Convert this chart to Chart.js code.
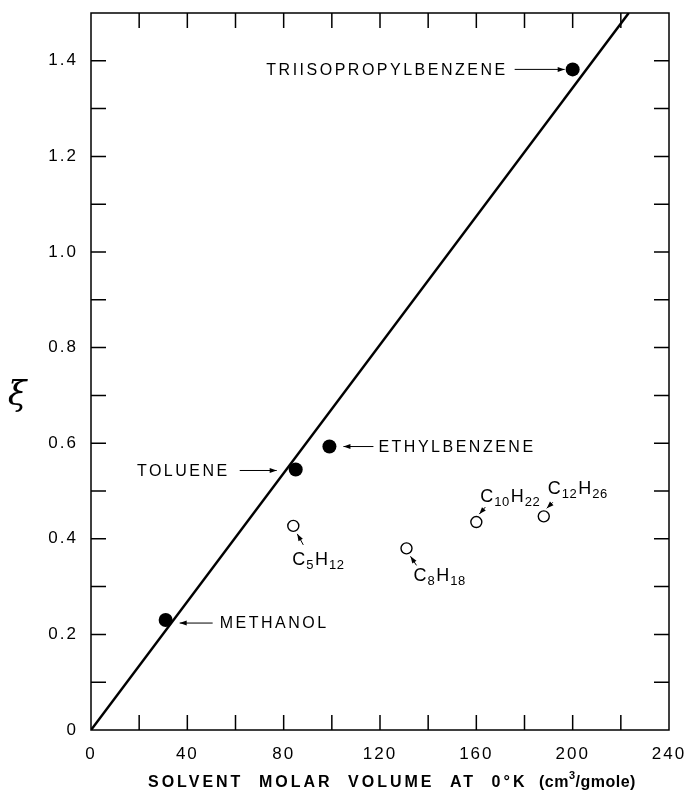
<!DOCTYPE html>
<html>
<head>
<meta charset="utf-8">
<script src="https://cdn.jsdelivr.net/npm/chart.js@4"></script>
<style>
  body { margin: 0; background: #fff; }
  #wrap { width: 689px; height: 792px; position: relative; }
</style>
</head>
<body>
<div id="wrap"><canvas id="chart" width="689" height="792"></canvas></div>
<script>
// regression line through the origin
const lineX = [0, 223.3];
const lineY = [0, 1.5];

// filled points (aromatics, methanol)
const filledNames = ["METHANOL", "TOLUENE", "ETHYLBENZENE", "TRIISOPROPYLBENZENE"];
const filledX = [31, 85, 99, 200];
const filledY = [0.23, 0.545, 0.593, 1.382];

// open points (n-alkanes)
const openNames = [["C", "5", "H", "12"], ["C", "8", "H", "18"], ["C", "10", "H", "22"], ["C", "12", "H", "26"]];
const openX = [84, 131, 160, 188];
const openY = [0.427, 0.38, 0.435, 0.447];

const xTicks = [0, 40, 80, 120, 160, 200, 240];
const yTicks = [0, 0.2, 0.4, 0.6, 0.8, 1.0, 1.2, 1.4];

const xTitle = ["SOLVENT", "MOLAR", "VOLUME", "AT", "0°K"];

// label placement relative to each point (pixels)
const filledLayout = [
  { side: 1, head: 14, tail: 47, text: 54, dy: 3 },
  { side: -1, head: -19, tail: -56, text: -66, dy: 1 },
  { side: 1, head: 14, tail: 44, text: 49, dy: 0 },
  { side: -1, head: -8, tail: -58, text: -65, dy: 0 }
];
const openLayout = [
  { tx: -1, ty: 39, ax: 10, ay: 19, hx: 4, hy: 8 },
  { tx: 7, ty: 33, ax: 10, ay: 17, hx: 4, hy: 8 },
  { tx: 4, ty: -20, ax: 9, ay: -15, hx: 3, hy: -8 },
  { tx: 4, ty: -22, ax: 9, ay: -14, hx: 3, hy: -8 }
];

const FONT = '"Liberation Sans", Arial, sans-serif';

function arrow(ctx, x1, y1, x2, y2) {
  ctx.beginPath();
  ctx.moveTo(x1, y1);
  ctx.lineTo(x2, y2);
  ctx.lineWidth = 1;
  ctx.stroke();
  const a = Math.atan2(y2 - y1, x2 - x1);
  const L = 7, W = 2.5;
  ctx.beginPath();
  ctx.moveTo(x2, y2);
  ctx.lineTo(x2 - L * Math.cos(a) + W * Math.sin(a), y2 - L * Math.sin(a) - W * Math.cos(a));
  ctx.lineTo(x2 - L * Math.cos(a) - W * Math.sin(a), y2 - L * Math.sin(a) + W * Math.cos(a));
  ctx.closePath();
  ctx.fill();
}

const decor = {
  id: "decor",
  beforeDraw(chart) {
    chart.ctx.letterSpacing = "2px";
  },
  afterDraw(chart) {
    const ctx = chart.ctx;
    const a = chart.chartArea;
    const xs = chart.scales.x, ys = chart.scales.y;
    ctx.save();
    ctx.strokeStyle = "#000";
    ctx.fillStyle = "#000";

    // frame
    ctx.lineWidth = 1.5;
    ctx.strokeRect(a.left, a.top, a.right - a.left, a.bottom - a.top);

    // inward ticks
    const tl = 15;
    ctx.beginPath();
    for (let v = 20; v < 240; v += 20) {
      const p = xs.getPixelForValue(v);
      ctx.moveTo(p, a.bottom); ctx.lineTo(p, a.bottom - tl);
      ctx.moveTo(p, a.top); ctx.lineTo(p, a.top + tl);
    }
    for (let i = 1; i < 15; i++) {
      const p = ys.getPixelForValue(i / 10);
      ctx.moveTo(a.left, p); ctx.lineTo(a.left + tl, p);
      ctx.moveTo(a.right, p); ctx.lineTo(a.right - tl, p);
    }
    ctx.stroke();

    // filled point labels
    ctx.font = "16px " + FONT;
    ctx.letterSpacing = "2.5px";
    ctx.textBaseline = "middle";
    filledNames.forEach((name, i) => {
      const L = filledLayout[i];
      const px = xs.getPixelForValue(filledX[i]);
      const py = ys.getPixelForValue(filledY[i]) + L.dy;
      arrow(ctx, px + L.tail, py, px + L.head, py);
      ctx.textAlign = L.side > 0 ? "left" : "right";
      ctx.fillText(name, px + L.text, py + 1);
    });

    // open point labels
    ctx.textAlign = "left";
    ctx.textBaseline = "alphabetic";
    openNames.forEach((parts, i) => {
      const L = openLayout[i];
      const px = xs.getPixelForValue(openX[i]);
      const py = ys.getPixelForValue(openY[i]);
      arrow(ctx, px + L.ax, py + L.ay, px + L.hx, py + L.hy);
      let x = px + L.tx;
      const y = py + L.ty;
      parts.forEach((s, k) => {
        const sub = k % 2 === 1;
        ctx.font = (sub ? "13px " : "18px ") + FONT;
        ctx.letterSpacing = sub ? "0.5px" : "1px";
        ctx.fillText(s, x, sub ? y + 4 : y);
        x += ctx.measureText(s).width + (sub ? 1 : 0);
      });
    });

    // x axis title
    ctx.font = "bold 16px " + FONT;
    ctx.letterSpacing = "3px";
    let x = 148;
    const by = 787;
    xTitle.forEach(w => {
      ctx.fillText(w, x, by);
      x += ctx.measureText(w).width + 15.5;
    });
    ctx.letterSpacing = "0.5px";
    x -= 4;
    ctx.fillText("(cm", x, by);
    x += ctx.measureText("(cm").width;
    ctx.font = "bold 11px " + FONT;
    ctx.fillText("3", x, by - 8);
    x += ctx.measureText("3").width;
    ctx.font = "bold 16px " + FONT;
    ctx.fillText("/gmole)", x, by);

    // y axis symbol
    ctx.letterSpacing = "0px";
    ctx.font = 'italic 34px "DejaVu Serif", serif';
    ctx.textAlign = "center";
    ctx.textBaseline = "middle";
    ctx.fillText("ξ", 17, 396);
    ctx.restore();
  }
};

new Chart(document.getElementById("chart"), {
  type: "scatter",
  data: {
    datasets: [
      {
        data: lineX.map((x, i) => ({ x, y: lineY[i] })),
        showLine: true,
        borderColor: "#000",
        borderWidth: 2.5,
        pointRadius: 0
      },
      {
        data: filledX.map((x, i) => ({ x, y: filledY[i] })),
        pointRadius: 7,
        backgroundColor: "#000",
        borderColor: "#000",
        borderWidth: 0
      },
      {
        data: openX.map((x, i) => ({ x, y: openY[i] })),
        pointRadius: 5.5,
        backgroundColor: "#fff",
        borderColor: "#000",
        borderWidth: 1.4
      }
    ]
  },
  options: {
    responsive: false,
    animation: false,
    devicePixelRatio: 1,
    layout: { padding: { left: 0, right: 20, top: 13, bottom: 0 } },
    plugins: { legend: { display: false }, tooltip: { enabled: false } },
    scales: {
      x: {
        type: "linear",
        min: 0, max: 240,
        afterFit: s => { s.height = 62; s.paddingLeft = 0; s.paddingRight = 0; },
        afterBuildTicks: s => { s.ticks = xTicks.map(v => ({ value: v })); },
        grid: { display: false },
        border: { display: false },
        ticks: { color: "#000", padding: 6, font: { family: FONT, size: 17 } }
      },
      y: {
        type: "linear",
        min: 0, max: 1.5,
        afterFit: s => { s.width = 91; s.paddingTop = 0; s.paddingBottom = 0; },
        afterBuildTicks: s => { s.ticks = yTicks.map(v => ({ value: v })); },
        grid: { display: false },
        border: { display: false },
        ticks: {
          color: "#000", padding: 5, font: { family: FONT, size: 17 },
          callback: v => v === 0 ? "0" : v.toFixed(1)
        }
      }
    }
  },
  plugins: [decor]
});
</script>
</body>
</html>
